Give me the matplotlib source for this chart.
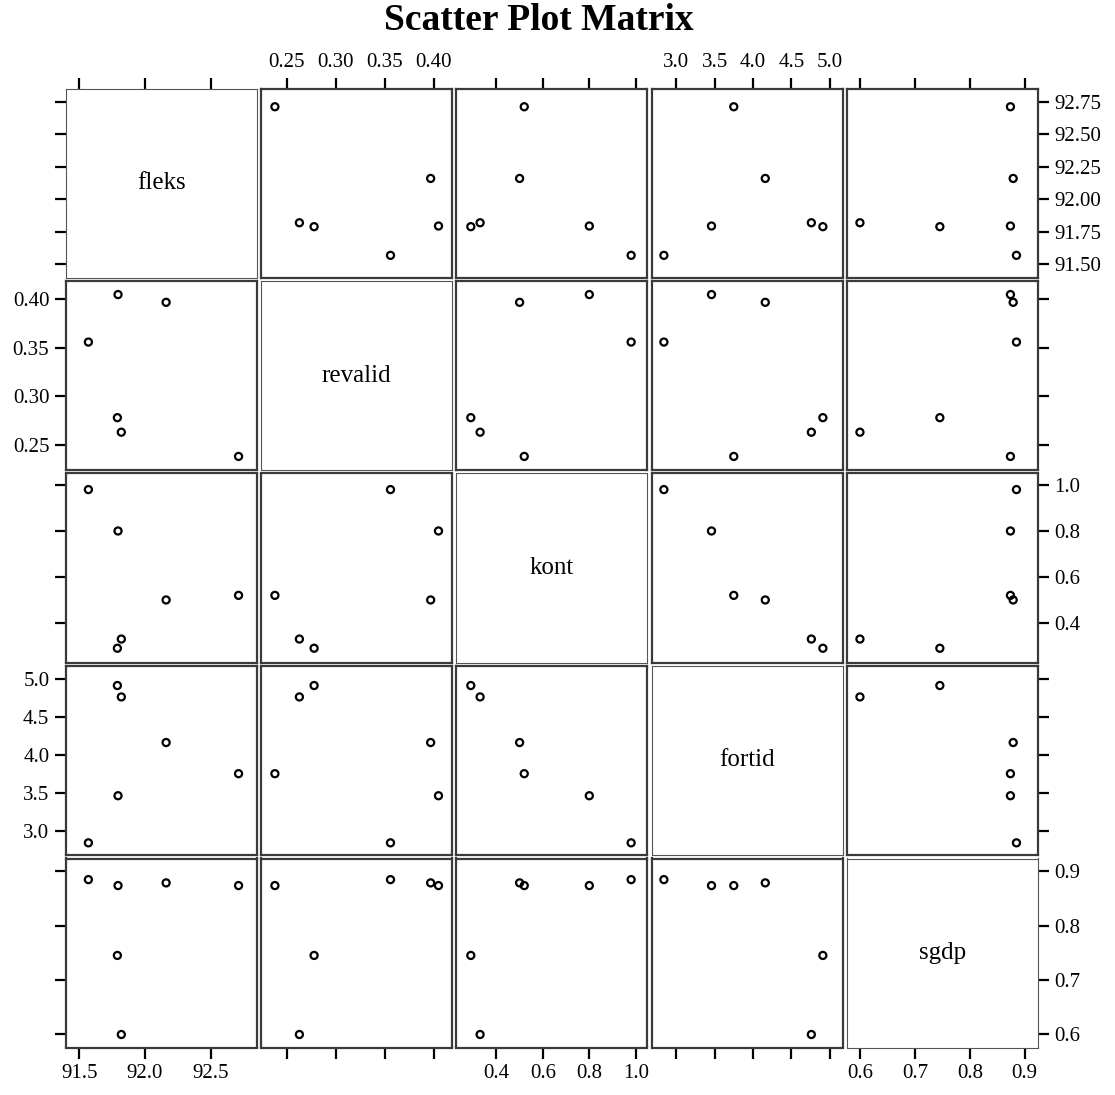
import matplotlib.pyplot as plt
from matplotlib.ticker import FormatStrFormatter

plt.rcParams['font.family'] = ['Liberation Serif', 'DejaVu Serif']

# 数据: 6个观测值, 5个变量
names = ['fleks', 'revalid', 'kont', 'fortid', 'sgdp']
fleks = [91.57, 92.71, 92.16, 91.82, 91.79, 91.795]
revalid = [0.356, 0.238, 0.397, 0.263, 0.278, 0.405]
kont = [0.98, 0.52, 0.50, 0.33, 0.29, 0.80]
fortid = [2.84, 3.75, 4.16, 4.76, 4.91, 3.46]
sgdp = [0.885, 0.874, 0.879, 0.599, 0.745, 0.874]
data = [fleks, revalid, kont, fortid, sgdp]

# 坐标轴范围和刻度
limits = [(91.40, 92.85), (0.224, 0.419), (0.228, 1.05), (2.68, 5.167), (0.575, 0.924)]
xticks = [[91.5, 92.0, 92.5], [0.25, 0.30, 0.35, 0.40], [0.4, 0.6, 0.8, 1.0],
          [3.0, 3.5, 4.0, 4.5, 5.0], [0.6, 0.7, 0.8, 0.9]]
yticks = [[91.5, 91.75, 92.0, 92.25, 92.5, 92.75], [0.25, 0.30, 0.35, 0.40], [0.4, 0.6, 0.8, 1.0],
          [3.0, 3.5, 4.0, 4.5, 5.0], [0.6, 0.7, 0.8, 0.9]]
xfmt = ['%.1f', '%.2f', '%.1f', '%.1f', '%.1f']
yfmt = ['%.2f', '%.2f', '%.1f', '%.1f', '%.1f']

W, H = 1115, 1095
fig = plt.figure(figsize=(W / 100, H / 100), dpi=100)

n = len(names)
for i in range(n):        # 行 -> y变量
    for j in range(n):    # 列 -> x变量
        left = 66 + j * 195.2
        top = 88.5 + i * 192.5
        ax = fig.add_axes([left / W, 1 - (top + 189) / H, 191 / W, 189 / H])
        ax.set_xlim(limits[j])
        ax.set_ylim(limits[i])
        ax.set_xticks(xticks[j])
        ax.set_yticks(yticks[i])
        ax.xaxis.set_major_formatter(FormatStrFormatter(xfmt[j]))
        ax.yaxis.set_major_formatter(FormatStrFormatter(yfmt[i]))

        if i == j:
            for s in ax.spines.values():
                s.set_linewidth(0.8)
                s.set_color('#555555')
            ax.text(0.5, 0.5, names[i], transform=ax.transAxes, ha='center', va='center',
                    fontsize=18)
        else:
            for s in ax.spines.values():
                s.set_linewidth(1.6)
                s.set_color('#3a3a3a')
            ax.scatter(data[j], data[i], s=26, facecolors='none', edgecolors='black',
                       linewidths=1.6, zorder=3)

        # 外侧刻度, 标签交替放置
        ax.tick_params(axis='both', which='both', direction='out', length=8, width=1.6,
                       labelsize=15, pad=4, color='black',
                       top=(i == 0), bottom=(i == n - 1), left=(j == 0), right=(j == n - 1),
                       labeltop=(i == 0 and j % 2 == 1),
                       labelbottom=(i == n - 1 and j % 2 == 0),
                       labelleft=(j == 0 and i % 2 == 1),
                       labelright=(j == n - 1 and i % 2 == 0))

fig.text(539 / W, 1 - 21 / H, 'Scatter Plot Matrix', ha='center', va='center',
         fontsize=27, fontweight='bold')

plt.savefig('out.png', dpi=100)
